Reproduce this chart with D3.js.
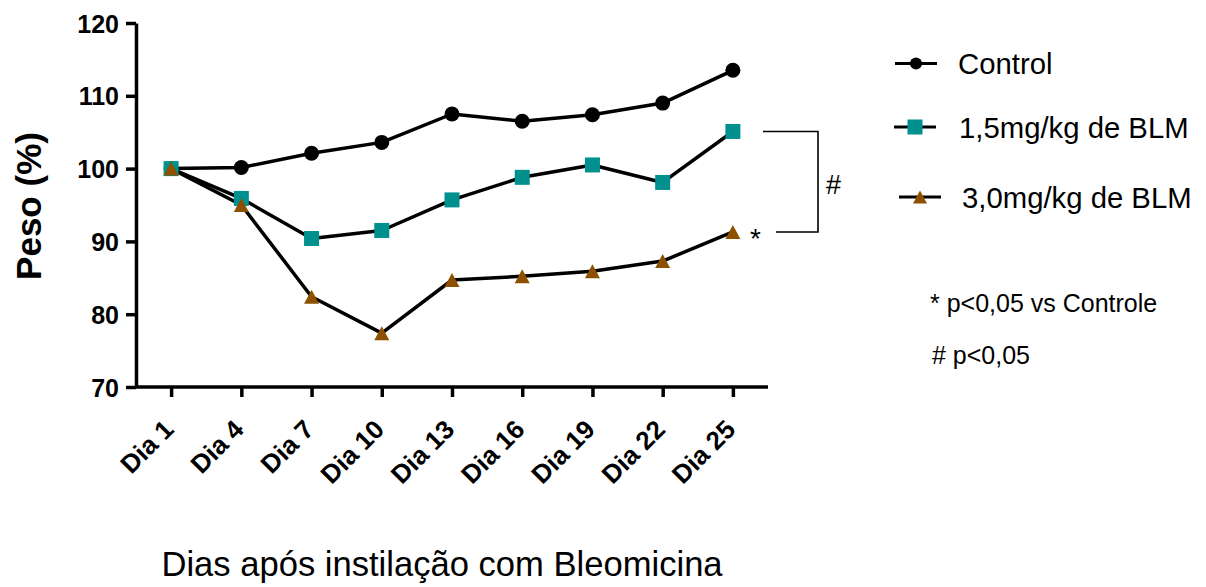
<!DOCTYPE html>
<html>
<head>
<meta charset="utf-8">
<script src="https://cdn.jsdelivr.net/npm/d3@7"></script>
<style>
  body { margin: 0; background: #fff; }
  svg { display: block; font-family: Arial, "Liberation Sans", sans-serif; }
</style>
</head>
<body>
<svg id="chart" width="1206" height="587"></svg>
<script>
const categories = ["Dia 1","Dia 4","Dia 7","Dia 10","Dia 13","Dia 16","Dia 19","Dia 22","Dia 25"];
const control = [100, 100.15, 102.1, 103.6, 107.5, 106.5, 107.4, 109.0, 113.5];
const blm15   = [100, 95.9, 90.4, 91.5, 95.7, 98.8, 100.5, 98.1, 105.1];
const blm30   = [100, 95.0, 82.4, 77.4, 84.7, 85.2, 85.9, 87.3, 91.3];
const yTicks = [70, 80, 90, 100, 110, 120];
const seriesNames = ["Control", "1,5mg/kg de BLM", "3,0mg/kg de BLM"];
const seriesColors = ["#000000", "#00918F", "#8C5000"];
const footnotes = ["* p<0,05 vs Controle", "# p<0,05"];

const svg = d3.select("#chart");
const x = d3.scalePoint().domain(categories).range([136, 768]).padding(0.5);
const y = d3.scaleLinear().domain([70, 120]).range([387, 23]);

// Axes
const yAxis = svg.append("g").attr("transform", "translate(136,0)")
  .call(d3.axisLeft(y).tickValues(yTicks).tickSize(10).tickPadding(7).tickSizeOuter(0));
const xAxis = svg.append("g").attr("transform", "translate(0,387)")
  .call(d3.axisBottom(x).tickSize(10).tickSizeOuter(0).tickFormat(""));
[yAxis, xAxis].forEach(g => {
  g.attr("font-family", "Arial, 'Liberation Sans', sans-serif");
  g.select(".domain").attr("stroke", "#000").attr("stroke-width", 3.5);
  g.selectAll(".tick line").attr("stroke", "#000").attr("stroke-width", 3.5);
});
yAxis.attr("font-size", 25).attr("font-weight", "bold");
yAxis.selectAll(".tick text").attr("fill", "#000").attr("dy", "0.36em");
xAxis.select(".domain").attr("d", "M136,0H768");

// X tick labels rotated
svg.append("g").selectAll("text").data(categories).join("text")
  .attr("transform", d => `translate(${x(d) + 4},431) rotate(-45)`)
  .attr("text-anchor", "end")
  .attr("font-size", 26).attr("font-weight", "bold").attr("fill", "#000")
  .text(d => d);

// Axis titles
svg.append("text").attr("transform", "translate(41,206) rotate(-90)")
  .attr("text-anchor", "middle").attr("font-size", 35).attr("font-weight", "bold")
  .text("Peso (%)");
svg.append("text").attr("x", 442).attr("y", 576).attr("text-anchor", "middle")
  .attr("font-size", 34.6).text("Dias após instilação com Bleomicina");

// Lines
const line = d3.line().x((d, i) => x(categories[i])).y(d => y(d));
[control, blm15, blm30].forEach(s => {
  svg.append("path").datum(s).attr("d", line).attr("fill", "none")
    .attr("stroke", "#000").attr("stroke-width", 3.5).attr("stroke-linejoin", "round");
});

function triPath(cx, cy, w, h) {
  return `M${cx},${cy - h/2}L${cx + w/2},${cy + h/2}L${cx - w/2},${cy + h/2}Z`;
}

// Markers
svg.append("g").selectAll("circle").data(control).join("circle")
  .attr("cx", (d, i) => x(categories[i])).attr("cy", d => y(d)).attr("r", 7.5)
  .attr("fill", seriesColors[0]);
svg.append("g").selectAll("rect").data(blm15).join("rect")
  .attr("x", (d, i) => x(categories[i]) - 7.5).attr("y", d => y(d) - 7.5)
  .attr("width", 15).attr("height", 15).attr("fill", seriesColors[1]);
svg.append("g").selectAll("path").data(blm30).join("path")
  .attr("d", (d, i) => triPath(x(categories[i]), y(d), 15, 14))
  .attr("fill", seriesColors[2]);

// Significance bracket
const yTop = y(blm15[8]), yBot = y(blm30[8]);
svg.append("path")
  .attr("d", `M763,${yTop}H818V${yBot}H776`)
  .attr("fill", "none").attr("stroke", "#000").attr("stroke-width", 1.6);
svg.append("text").attr("x", 826).attr("y", 194).attr("font-size", 27).text("#");
svg.append("text").attr("x", 750).attr("y", 248).attr("font-size", 28).text("*");

// Legend
const legendRows = [
  {y: 63.5, x1: 895, x2: 937, tx: 958},
  {y: 127, x1: 894, x2: 936, tx: 959},
  {y: 197, x1: 899, x2: 941, tx: 962}
];
legendRows.forEach((r, i) => {
  const g = svg.append("g");
  g.append("line").attr("x1", r.x1).attr("x2", r.x2).attr("y1", r.y).attr("y2", r.y)
    .attr("stroke", "#000").attr("stroke-width", 3);
  const cx = (r.x1 + r.x2) / 2;
  if (i === 0) g.append("circle").attr("cx", cx).attr("cy", r.y).attr("r", 6).attr("fill", seriesColors[0]);
  if (i === 1) g.append("rect").attr("x", cx - 7.5).attr("y", r.y - 7.5).attr("width", 15).attr("height", 15).attr("fill", seriesColors[1]);
  if (i === 2) g.append("path").attr("d", triPath(cx, r.y, 14, 13)).attr("fill", seriesColors[2]);
  g.append("text").attr("x", r.tx).attr("y", r.y + 10.5).attr("font-size", 29.3).text(seriesNames[i]);
});

// Footnotes
svg.append("text").attr("x", 930).attr("y", 312).attr("font-size", 25).text(footnotes[0]);
svg.append("text").attr("x", 932).attr("y", 364).attr("font-size", 25).text(footnotes[1]);
</script>
</body>
</html>
